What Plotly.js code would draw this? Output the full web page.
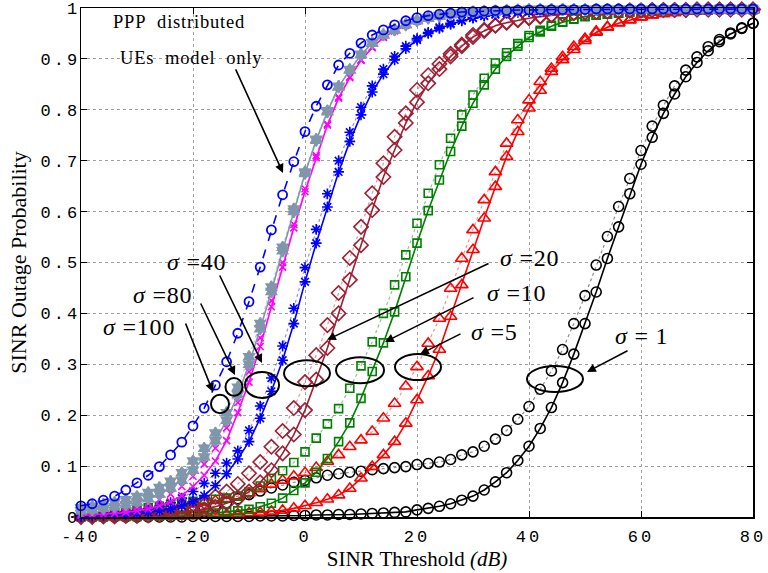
<!DOCTYPE html>
<html>
<head>
<meta charset="utf-8">
<script src="https://cdn.plot.ly/plotly-3.0.1.min.js"></script>
<style>
html,body{margin:0;padding:0;background:#fff;}
.xtick text,.ytick text{letter-spacing:3px;}
.annotation-text{letter-spacing:0.8px;}
</style>
</head>
<body>
<div id="chart" style="width:768px;height:573px;"></div>
<script>
// SINR threshold (dB)
const sinr = [-40,-38,-36,-34,-32,-30,-28,-26,-24,-22,-20,-18,-16,-14,-12,-10,-8,-6,-4,-2,0,2,4,6,8,10,12,14,16,18,20,22,24,26,28,30,32,34,36,38,40,42,44,46,48,50,52,54,56,58,60,62,64,66,68,70,72,74,76,78,80];

// PPP distributed UEs model only
const pppOnly = [0.022,0.026,0.033,0.041,0.053,0.067,0.082,0.099,0.122,0.147,
0.179,0.214,0.259,0.305,0.361,0.423,0.491,0.564,0.633,0.698,
0.757,0.807,0.849,0.888,0.911,0.931,0.947,0.957,0.967,0.975,
0.981,0.985,0.988,0.990,0.992,0.993,0.994,0.995,0.995,0.996,
0.996,0.997,0.997,0.997,0.997,0.997,0.998,0.998,0.998,0.998,
0.998,0.998,0.998,0.998,0.998,0.998,0.998,0.998,0.998,0.998,0.998];

// sigma = 100
const s100Ana = [0.012,0.014,0.017,0.020,0.024,0.029,0.036,0.045,0.057,0.072,
0.092,0.118,0.150,0.190,0.240,0.300,0.370,0.443,0.523,0.600,
0.675,0.740,0.796,0.845,0.878,0.908,0.931,0.947,0.957,0.967,
0.975,0.980,0.984,0.987,0.990,0.992,0.993,0.994,0.995,0.996,
0.997,0.997,0.997,0.997,0.997,0.997,0.997,0.997,0.997,0.997,
0.997,0.997,0.997,0.997,0.997,0.997,0.997,0.997,0.997,0.997,0.997];
const s100Sim = [0.018,0.021,0.025,0.029,0.034,0.040,0.048,0.058,0.070,0.087,
0.110,0.135,0.165,0.205,0.255,0.315,0.380,0.452,0.530,0.605,
0.678,0.742,0.798,0.846,0.879,0.909,0.932,0.948,0.958,0.968,
0.976,0.981,0.985,0.988,0.990,0.992,0.993,0.994,0.995,0.996,
0.997,0.997,0.997,0.997,0.997,0.997,0.997,0.997,0.997,0.997,
0.997,0.997,0.997,0.997,0.997,0.997,0.997,0.997,0.997,0.997,0.997];

// sigma = 80
const s80Ana = [0.003,0.004,0.005,0.007,0.009,0.012,0.016,0.022,0.030,0.042,
0.060,0.082,0.110,0.150,0.205,0.265,0.335,0.413,0.491,0.568,
0.639,0.706,0.770,0.823,0.863,0.897,0.922,0.942,0.955,0.966,
0.974,0.980,0.984,0.987,0.990,0.992,0.993,0.994,0.995,0.996,
0.997,0.997,0.997,0.997,0.997,0.997,0.997,0.997,0.997,0.997,
0.997,0.997,0.997,0.997,0.997,0.997,0.997,0.997,0.997,0.997,0.997];
const s80Sim = [0.006,0.008,0.010,0.013,0.016,0.020,0.026,0.034,0.045,0.060,
0.080,0.104,0.135,0.175,0.225,0.285,0.352,0.425,0.500,0.575,
0.645,0.710,0.772,0.825,0.865,0.898,0.923,0.943,0.956,0.967,
0.975,0.981,0.985,0.988,0.990,0.992,0.993,0.994,0.995,0.996,
0.997,0.997,0.997,0.997,0.997,0.997,0.997,0.997,0.997,0.997,
0.997,0.997,0.997,0.997,0.997,0.997,0.997,0.997,0.997,0.997,0.997];

// sigma = 40
const s40Ana = [0.001,0.002,0.003,0.004,0.005,0.007,0.009,0.012,0.016,0.022,
0.030,0.042,0.062,0.085,0.114,0.148,0.194,0.247,0.308,0.380,
0.462,0.538,0.609,0.678,0.738,0.790,0.835,0.870,0.898,0.920,
0.937,0.950,0.960,0.968,0.975,0.980,0.984,0.987,0.990,0.992,
0.993,0.994,0.995,0.996,0.997,0.997,0.997,0.997,0.997,0.997,
0.997,0.997,0.997,0.997,0.997,0.997,0.997,0.997,0.997,0.997,0.997];
const s40Sim = [0.003,0.004,0.005,0.007,0.009,0.012,0.016,0.021,0.028,0.037,
0.050,0.066,0.086,0.106,0.130,0.170,0.218,0.273,0.336,0.410,
0.490,0.565,0.635,0.700,0.756,0.805,0.847,0.880,0.905,0.925,
0.940,0.952,0.962,0.970,0.976,0.981,0.985,0.988,0.990,0.992,
0.993,0.994,0.995,0.996,0.997,0.997,0.997,0.997,0.997,0.997,
0.997,0.997,0.997,0.997,0.997,0.997,0.997,0.997,0.997,0.997,0.997];

// sigma = 20
const s20Ana = [0.000,0.000,0.001,0.001,0.002,0.002,0.003,0.004,0.006,0.008,
0.011,0.015,0.020,0.027,0.036,0.050,0.068,0.092,0.125,0.162,
0.210,0.270,0.332,0.400,0.466,0.534,0.603,0.668,0.721,0.774,
0.815,0.852,0.880,0.905,0.925,0.943,0.955,0.965,0.971,0.976,
0.980,0.983,0.986,0.988,0.990,0.991,0.992,0.993,0.994,0.995,
0.995,0.996,0.996,0.996,0.996,0.997,0.997,0.997,0.997,0.997,0.997];
const s20Sim = [0.001,0.002,0.003,0.004,0.006,0.008,0.010,0.013,0.016,0.020,
0.025,0.030,0.040,0.050,0.065,0.086,0.108,0.138,0.169,0.214,
0.265,0.318,0.377,0.440,0.509,0.570,0.636,0.695,0.747,0.793,
0.839,0.868,0.890,0.910,0.928,0.947,0.957,0.966,0.972,0.977,
0.981,0.984,0.986,0.988,0.990,0.991,0.992,0.993,0.994,0.995,
0.995,0.996,0.996,0.996,0.996,0.997,0.997,0.997,0.997,0.997,0.997];

// sigma = 10
const s10Ana = [0.000,0.000,0.000,0.001,0.001,0.001,0.002,0.002,0.003,0.004,
0.005,0.006,0.008,0.010,0.012,0.015,0.020,0.027,0.037,0.052,
0.067,0.088,0.115,0.148,0.185,0.233,0.286,0.342,0.403,0.472,
0.538,0.602,0.662,0.718,0.768,0.813,0.849,0.880,0.905,0.925,
0.942,0.953,0.964,0.972,0.978,0.983,0.986,0.988,0.990,0.992,
0.993,0.994,0.995,0.996,0.996,0.996,0.996,0.997,0.997,0.997,0.997];
const s10Sim = [0.005,0.007,0.009,0.011,0.013,0.015,0.018,0.021,0.024,0.028,
0.031,0.033,0.035,0.037,0.041,0.049,0.061,0.076,0.091,0.107,
0.128,0.155,0.183,0.213,0.253,0.297,0.344,0.400,0.456,0.515,
0.577,0.636,0.692,0.744,0.790,0.829,0.862,0.892,0.912,0.930,
0.946,0.956,0.966,0.973,0.979,0.984,0.986,0.988,0.990,0.992,
0.993,0.994,0.995,0.996,0.996,0.996,0.996,0.997,0.997,0.997,0.997];

// sigma = 5
const s5Ana = [0.000,0.000,0.000,0.000,0.000,0.001,0.001,0.001,0.001,0.002,
0.002,0.003,0.004,0.005,0.006,0.008,0.009,0.011,0.013,0.017,
0.022,0.028,0.035,0.043,0.056,0.076,0.099,0.122,0.148,0.184,
0.230,0.277,0.329,0.394,0.456,0.525,0.587,0.649,0.708,0.757,
0.803,0.838,0.875,0.898,0.918,0.936,0.952,0.962,0.970,0.976,
0.982,0.986,0.989,0.991,0.993,0.994,0.995,0.995,0.996,0.996,0.996];
const s5Sim = [0.004,0.006,0.008,0.010,0.012,0.014,0.016,0.018,0.020,0.022,
0.025,0.028,0.032,0.036,0.041,0.047,0.055,0.064,0.072,0.080,
0.087,0.097,0.109,0.122,0.138,0.151,0.168,0.194,0.223,0.257,
0.295,0.341,0.390,0.449,0.508,0.564,0.623,0.678,0.734,0.780,
0.819,0.855,0.881,0.904,0.924,0.940,0.954,0.963,0.971,0.977,
0.982,0.986,0.989,0.991,0.993,0.994,0.995,0.995,0.996,0.996,0.996];

// sigma = 1
const s1Ana = [0.000,0.000,0.000,0.000,0.000,0.000,0.000,0.000,0.000,0.000,
0.001,0.001,0.001,0.001,0.001,0.001,0.002,0.002,0.002,0.003,
0.003,0.004,0.004,0.005,0.005,0.006,0.007,0.008,0.009,0.010,
0.014,0.017,0.021,0.026,0.033,0.041,0.053,0.069,0.087,0.111,
0.139,0.174,0.215,0.264,0.320,0.380,0.442,0.508,0.570,0.635,
0.693,0.746,0.793,0.831,0.865,0.893,0.916,0.934,0.949,0.960,0.970];
const s1Sim = [0.001,0.001,0.002,0.002,0.003,0.004,0.005,0.006,0.008,0.010,
0.013,0.017,0.022,0.028,0.036,0.044,0.051,0.057,0.063,0.068,
0.072,0.077,0.082,0.085,0.088,0.090,0.093,0.095,0.097,0.099,
0.103,0.105,0.108,0.113,0.122,0.128,0.139,0.153,0.170,0.192,
0.217,0.251,0.287,0.329,0.380,0.435,0.495,0.551,0.610,0.665,
0.720,0.768,0.809,0.847,0.878,0.904,0.924,0.938,0.951,0.961,0.970];

const yTickVals = [0,0.1,0.2,0.3,0.4,0.5,0.6,0.7,0.8,0.9,1];
const yTickText = ['0','0.1','0.2','0.3','0.4','0.5','0.6','0.7','0.8','0.9','1'];
const xTickVals = [-40,-20,0,20,40,60,80];
const xTickText = ['-40','-20','0','20','40','60','80'];

function pair(ana, sim, color, lineFaint, symbol, size, fill) {
  const mk = {symbol: symbol, size: size, color: fill || color, line: {color: color, width: 1.6}};
  return [
    {x: sinr, y: sim, mode: 'lines+markers', cliponaxis: false,
     line: {color: lineFaint, width: 1.2, dash: 'dot'}, marker: mk},
    {x: sinr, y: ana, mode: 'lines+markers', cliponaxis: false,
     line: {color: color, width: 1.6}, marker: mk}
  ];
}

const DR = 'rgb(160,30,50)';
const GR = 'rgb(128,150,170)';
let traces = [];
traces = traces.concat(pair(s1Ana, s1Sim, '#000000', 'rgba(0,0,0,0.45)', 'circle-open', 10));
traces = traces.concat(pair(s5Ana, s5Sim, '#ff0000', 'rgba(255,0,0,0.45)', 'triangle-up-open', 11));
traces = traces.concat(pair(s10Ana, s10Sim, '#008000', 'rgba(0,128,0,0.45)', 'square-open', 8));
traces = traces.concat(pair(s20Ana, s20Sim, DR, 'rgba(160,30,50,0.45)', 'diamond-open', 11));
traces = traces.concat(pair(s40Ana, s40Sim, '#0000ff', 'rgba(0,0,255,0.45)', 'asterisk-open', 9));
traces = traces.concat(pair(s80Ana, s80Sim, '#ff00ff', 'rgba(255,0,255,0.45)', 'x-thin-open', 7));
traces = traces.concat(pair(s100Ana, s100Sim, GR, 'rgba(128,150,170,0.5)', 'hexagram', 9, GR));
traces.push({x: sinr, y: pppOnly, mode: 'lines+markers', cliponaxis: false,
  line: {color: '#0000ff', width: 1.6, dash: 'dash'},
  marker: {symbol: 'circle-open', size: 9, color: '#0000ff', line: {color: '#0000ff', width: 1.8}}});

const serif = 'Liberation Serif, Times New Roman, serif';
function lbl(x, y, text, size) {
  return {x: x, y: y, xref: 'x', yref: 'y', text: text, showarrow: false,
    font: {family: serif, size: size || 24, color: '#000'}, xanchor: 'center', yanchor: 'middle'};
}
function arr(x, y, ax, ay) {
  return {x: x, y: y, xref: 'x', yref: 'y', ax: ax, ay: ay, axref: 'pixel', ayref: 'pixel',
    text: '', showarrow: true, arrowhead: 2, arrowsize: 1.1, arrowwidth: 1.6, arrowcolor: '#000'};
}
const annotations = [
  lbl(-22.5, 0.9725, 'PPP&#160;&#160;distributed', 18.5),
  lbl(-20.4, 0.902, 'UEs&#160;&#160;model&#160;&#160;only', 18.5),
  arr(-3.93, 0.676, -48, -105),
  lbl(-19.3, 0.501, '<i>σ</i> =40'),
  arr(-7.68, 0.3026, -43, -89),
  lbl(-25.5, 0.436, '<i>σ</i> =80'),
  arr(-12.5, 0.279, -35, -73),
  lbl(-29.6, 0.373, '<i>σ</i> =100'),
  arr(-16.43, 0.2456, -28, -70),
  lbl(40.0, 0.509, '<i>σ</i> =20'),
  arr(3.93, 0.348, 163, -77),
  lbl(37.7, 0.44, '<i>σ</i> =10'),
  arr(14.29, 0.344, 90, -45),
  lbl(33.75, 0.363, '<i>σ</i> =5'),
  arr(20.54, 0.32, 42, -21),
  lbl(60.0, 0.356, '<i>σ</i> = 1'),
  arr(50.36, 0.285, 42, -22)
];

function ell(x0, x1, y0, y1) {
  return {type: 'circle', xref: 'x', yref: 'y', x0: x0, x1: x1, y0: y0, y1: y1,
    line: {color: '#000', width: 2}};
}
const shapes = [
  ell(-16.79, -13.57, 0.204, 0.240),
  ell(-14.2, -11.16, 0.238, 0.273),
  ell(-10.71, -4.64, 0.234, 0.285),
  ell(-3.75, 4.46, 0.257, 0.308),
  ell(5.54, 14.11, 0.263, 0.314),
  ell(16.07, 24.29, 0.269, 0.320),
  ell(39.64, 49.64, 0.2456, 0.2967)
];

const tickFont = {family: 'Liberation Mono, Courier New, monospace', size: 17, color: '#000'};
const layout = {
  width: 768, height: 573,
  margin: {l: 81, r: 15, t: 8, b: 56},
  paper_bgcolor: '#fff', plot_bgcolor: '#fff',
  showlegend: false,
  xaxis: {
    range: [-40, 80], tickvals: xTickVals, ticktext: xTickText,
    showgrid: true, gridcolor: '#a0a0a0', griddash: 'dot', gridwidth: 1,
    zeroline: false, showline: true, linecolor: '#000', linewidth: 1.5, mirror: 'ticks',
    ticks: 'inside', ticklen: 6, tickwidth: 1, tickcolor: '#000',
    tickfont: tickFont, ticklabelstandoff: 3, ticklabeloverflow: 'allow',
    title: {text: 'SINR Threshold <i>(dB)</i>', font: {family: serif, size: 21, color: '#000'}, standoff: 3}
  },
  yaxis: {
    range: [0, 1], tickvals: yTickVals, ticktext: yTickText,
    showgrid: true, gridcolor: '#a0a0a0', griddash: 'dot', gridwidth: 1,
    zeroline: false, showline: true, linecolor: '#000', linewidth: 1.5, mirror: 'ticks',
    ticks: 'inside', ticklen: 6, tickwidth: 1, tickcolor: '#000',
    tickfont: tickFont, ticklabelstandoff: -4, ticklabeloverflow: 'allow',
    title: {text: 'SINR Outage Probability', font: {family: serif, size: 22, color: '#000'}, standoff: 8}
  },
  annotations: annotations,
  shapes: shapes
};

Plotly.newPlot('chart', traces, layout, {staticPlot: true, displayModeBar: false});
</script>
</body>
</html>
